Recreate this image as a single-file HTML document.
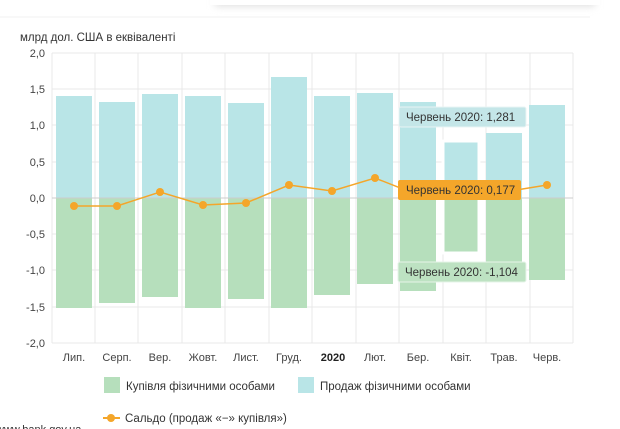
<!DOCTYPE html>
<html><head><meta charset="utf-8"><style>
html,body{margin:0;padding:0;background:#fff;width:620px;height:429px;overflow:hidden;font-family:"Liberation Sans","DejaVu Sans",sans-serif}
</style></head><body>
<svg width="620" height="429" xmlns="http://www.w3.org/2000/svg" font-family="Liberation Sans, DejaVu Sans, sans-serif">
<defs><filter id="sh" x="-10%" y="-100%" width="120%" height="300%"><feGaussianBlur stdDeviation="4"/></filter></defs>
<rect x="215" y="-10" width="380" height="16" fill="#ddd" filter="url(#sh)"/>
<rect x="210" y="-10" width="390" height="15" fill="#fff"/>
<line x1="0" y1="17" x2="590" y2="17" stroke="#f0f0f0"/>
<text x="20" y="41" font-size="11.5" fill="#333">млрд дол. США в еквіваленті</text>
<g stroke="#e8e8e8" stroke-width="1">
<line x1="52" y1="53" x2="573" y2="53"/><line x1="52" y1="89" x2="573" y2="89"/><line x1="52" y1="125" x2="573" y2="125"/><line x1="52" y1="162" x2="573" y2="162"/><line x1="52" y1="234" x2="573" y2="234"/><line x1="52" y1="270" x2="573" y2="270"/><line x1="52" y1="307" x2="573" y2="307"/><line x1="52" y1="343" x2="573" y2="343"/>
<line x1="52" y1="53" x2="52" y2="343"/><line x1="95" y1="53" x2="95" y2="343"/><line x1="138" y1="53" x2="138" y2="343"/><line x1="182" y1="53" x2="182" y2="343"/><line x1="225" y1="53" x2="225" y2="343"/><line x1="269" y1="53" x2="269" y2="343"/><line x1="312" y1="53" x2="312" y2="343"/><line x1="356" y1="53" x2="356" y2="343"/><line x1="399" y1="53" x2="399" y2="343"/><line x1="443" y1="53" x2="443" y2="343"/><line x1="486" y1="53" x2="486" y2="343"/><line x1="530" y1="53" x2="530" y2="343"/><line x1="573" y1="53" x2="573" y2="343"/>
</g>
<g font-size="11" fill="#444" text-anchor="end">
<text x="45" y="57">2,0</text><text x="45" y="93">1,5</text><text x="45" y="129">1,0</text><text x="45" y="166">0,5</text><text x="45" y="202">0,0</text><text x="45" y="238">-0,5</text><text x="45" y="274">-1,0</text><text x="45" y="311">-1,5</text><text x="45" y="347">-2,0</text>
</g>
<g fill="#b9e5e7">
<rect x="56" y="96" width="36" height="102"/><rect x="99" y="102" width="36" height="96"/><rect x="142" y="94" width="36" height="104"/><rect x="185" y="96" width="36" height="102"/><rect x="228" y="103" width="36" height="95"/><rect x="271" y="77" width="36" height="121"/><rect x="314" y="96" width="36" height="102"/><rect x="357" y="93" width="36" height="105"/><rect x="400" y="102" width="36" height="96"/><rect x="443" y="141" width="36" height="57"/><rect x="486" y="133" width="36" height="65"/><rect x="529" y="105" width="36" height="93"/>
</g>
<g fill="#b6dfbc">
<rect x="56" y="198" width="36" height="110"/><rect x="99" y="198" width="36" height="105"/><rect x="142" y="198" width="36" height="99"/><rect x="185" y="198" width="36" height="110"/><rect x="228" y="198" width="36" height="101"/><rect x="271" y="198" width="36" height="110"/><rect x="314" y="198" width="36" height="97"/><rect x="357" y="198" width="36" height="86"/><rect x="400" y="198" width="36" height="93"/><rect x="443" y="198" width="36" height="55"/><rect x="486" y="198" width="36" height="73"/><rect x="529" y="198" width="36" height="82"/>
</g>
<rect x="443" y="141" width="36" height="112" fill="none" stroke="#fff" stroke-width="3"/>
<line x1="52" y1="198" x2="573" y2="198" stroke="#ccc"/>
<polyline points="74,206 117,206 160,192 203,205 246,203 289,185 332,191 375,178 418,195 461,190 504,192 547,185" fill="none" stroke="#f4a62a" stroke-width="1.5"/>
<g fill="#f4a62a">
<circle cx="74" cy="206" r="4"/><circle cx="117" cy="206" r="4"/><circle cx="160" cy="192" r="4"/><circle cx="203" cy="205" r="4"/><circle cx="246" cy="203" r="4"/><circle cx="289" cy="185" r="4"/><circle cx="332" cy="191" r="4"/><circle cx="375" cy="178" r="4"/><circle cx="547" cy="185" r="4"/>
</g>
<rect x="399" y="107" width="127" height="20" rx="2" fill="#c4e6e8" stroke="#e8f4f4"/>
<text x="406" y="121" font-size="11.5" fill="#333">Червень 2020: 1,281</text>
<rect x="398" y="180" width="123" height="20" rx="2" fill="#f4a62a"/>
<text x="406" y="194" font-size="11.5" fill="#333">Червень 2020: 0,177</text>
<rect x="398" y="262" width="128" height="20" rx="2" fill="#bde2c2" stroke="#e6f4e8"/>
<text x="405" y="276" font-size="11.5" fill="#333">Червень 2020: -1,104</text>
<g font-size="11" fill="#444" text-anchor="middle">
<text x="74" y="361">Лип.</text><text x="117" y="361">Серп.</text><text x="160" y="361">Вер.</text><text x="203" y="361">Жовт.</text><text x="246" y="361">Лист.</text><text x="289" y="361">Груд.</text><text x="333" y="361" font-weight="bold" fill="#222">2020</text><text x="375" y="361">Лют.</text><text x="418" y="361">Бер.</text><text x="461" y="361">Квіт.</text><text x="504" y="361">Трав.</text><text x="547" y="361">Черв.</text>
</g>
<rect x="104" y="377" width="16" height="16" fill="#b6dfbc"/>
<text x="126" y="390" font-size="11.5" fill="#333">Купівля фізичними особами</text>
<rect x="298" y="377" width="16" height="16" fill="#b9e5e7"/>
<text x="320" y="390" font-size="11.5" fill="#333">Продаж фізичними особами</text>
<line x1="103" y1="418" x2="120" y2="418" stroke="#f4a62a" stroke-width="2"/>
<circle cx="111" cy="418" r="4" fill="#f4a62a"/>
<text x="125" y="422" font-size="11.5" fill="#333">Сальдо (продаж «−» купівля»)</text>
<text x="-4" y="433" font-size="11" fill="#333">www.bank.gov.ua</text>
</svg>
</body></html>
